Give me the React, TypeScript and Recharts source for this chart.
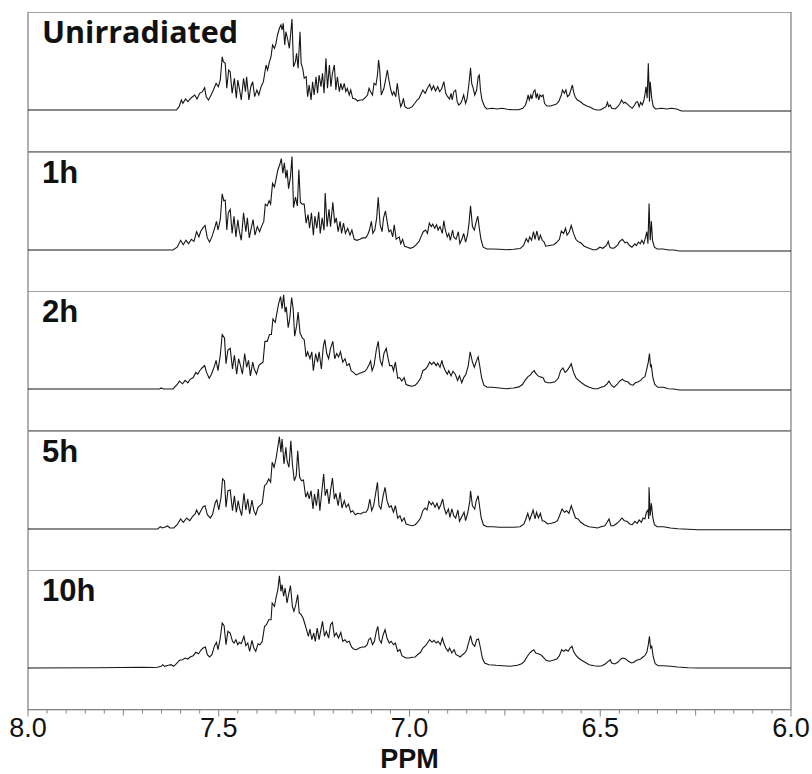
import { Label, Line, LineChart, ReferenceArea, XAxis, YAxis } from "recharts";

// ¹H NMR aromatic region, five irradiation times. Pairs are [ppm, intensity].
const unirradiated: [number, number][] = [
  [8.0, 0], [7.611, 0], [7.604, 3.3], [7.598, 10], [7.594, 6.7], [7.587, 11], [7.581, 8.3], [7.572, 12.3],
  [7.563, 15], [7.557, 11], [7.55, 16.7], [7.543, 18.3], [7.537, 22.3], [7.533, 13.3], [7.527, 10], [7.52, 15],
  [7.514, 20], [7.507, 26.7], [7.501, 23.3], [7.496, 30], [7.491, 53.3], [7.488, 48.3], [7.483, 46.7], [7.479, 21.7],
  [7.474, 40], [7.47, 38.3], [7.465, 16.7], [7.459, 31.7], [7.454, 11.7], [7.45, 30], [7.446, 21.7], [7.441, 10],
  [7.435, 31.7], [7.43, 18.3], [7.427, 33.3], [7.421, 10], [7.416, 23.3], [7.411, 28.3], [7.406, 13.3], [7.4, 20],
  [7.395, 15], [7.389, 23.3], [7.383, 28.3], [7.376, 45], [7.372, 40], [7.367, 48.3], [7.363, 53.3], [7.359, 65],
  [7.354, 61.7], [7.35, 66.7], [7.346, 75], [7.341, 81.7], [7.337, 85], [7.334, 80], [7.331, 86.7], [7.327, 65],
  [7.324, 78.3], [7.319, 70], [7.315, 61.7], [7.308, 91], [7.304, 43.3], [7.299, 48.3], [7.296, 56.7], [7.292, 41.7],
  [7.287, 78.3], [7.284, 46.7], [7.28, 41.7], [7.276, 31.7], [7.271, 33.3], [7.267, 13.3], [7.263, 25], [7.258, 10],
  [7.254, 28.3], [7.25, 15], [7.245, 33.3], [7.241, 16.7], [7.237, 35], [7.232, 23.3], [7.228, 36.7], [7.224, 16.7],
  [7.219, 51.7], [7.215, 21.7], [7.21, 45], [7.206, 23.3], [7.202, 36.7], [7.197, 45], [7.193, 20], [7.189, 33.3],
  [7.184, 18.3], [7.18, 26.7], [7.176, 20], [7.171, 26.7], [7.167, 18.3], [7.163, 21.7], [7.158, 15], [7.154, 20],
  [7.149, 11.7], [7.142, 11], [7.136, 9], [7.13, 10], [7.123, 10], [7.116, 12.3], [7.11, 15], [7.106, 21.7],
  [7.102, 18.3], [7.097, 15], [7.093, 26.7], [7.088, 25], [7.084, 35], [7.081, 50], [7.078, 40], [7.074, 15],
  [7.067, 21.7], [7.062, 31.7], [7.058, 40], [7.054, 30], [7.049, 20], [7.045, 15], [7.041, 18.3], [7.036, 13.3],
  [7.032, 26.7], [7.027, 11.7], [7.023, 3.3], [7.019, 6.7], [7.016, 11.7], [7.012, 3.3], [7.006, 1.7], [7.0, 1.7],
  [6.993, 3.3], [6.986, 6.7], [6.98, 10], [6.975, 11.7], [6.971, 15], [6.965, 20], [6.959, 16.7], [6.953, 21.7],
  [6.947, 25.7], [6.942, 20], [6.937, 24.3], [6.932, 19], [6.926, 23.3], [6.921, 18.3], [6.916, 21], [6.91, 28.3],
  [6.905, 16.7], [6.9, 13.3], [6.895, 11], [6.891, 16.7], [6.888, 10], [6.884, 18.3], [6.879, 20], [6.875, 8.3],
  [6.871, 5], [6.866, 6.7], [6.862, 10], [6.858, 15], [6.853, 6.7], [6.849, 11.7], [6.844, 26.7], [6.84, 42.3],
  [6.837, 26.7], [6.833, 21.7], [6.829, 15], [6.824, 20], [6.82, 33.3], [6.817, 35], [6.814, 20], [6.81, 10],
  [6.803, 3.3], [6.797, 1], [6.783, 1.7], [6.77, 1], [6.757, 1.7], [6.744, 0.7], [6.731, 0.3], [6.714, 0.3],
  [6.703, 1.7], [6.696, 5], [6.692, 10], [6.689, 15], [6.686, 10], [6.682, 15], [6.679, 11], [6.675, 18.3],
  [6.671, 20], [6.668, 11.7], [6.665, 16.7], [6.661, 10], [6.658, 15], [6.654, 13.3], [6.65, 15], [6.646, 6.7],
  [6.64, 4], [6.631, 4], [6.622, 5], [6.616, 5.7], [6.609, 8.3], [6.602, 15], [6.599, 20], [6.594, 16.7],
  [6.59, 20], [6.586, 13.3], [6.581, 15], [6.577, 20], [6.573, 25], [6.57, 18.3], [6.566, 13.3], [6.56, 10],
  [6.555, 9], [6.55, 7.7], [6.544, 5.7], [6.535, 4], [6.526, 2.7], [6.518, 1], [6.509, 0], [6.5, 0],
  [6.492, 1.7], [6.485, 3.3], [6.481, 7.7], [6.478, 3.3], [6.474, 5], [6.47, 1.7], [6.461, 1], [6.454, 3.3],
  [6.448, 6.7], [6.444, 10], [6.439, 6.7], [6.435, 7.7], [6.428, 5.7], [6.422, 3.3], [6.416, 1.7], [6.41, 5],
  [6.406, 7.7], [6.402, 8.3], [6.398, 3.3], [6.394, 7.7], [6.39, 5], [6.386, 9], [6.383, 15], [6.38, 23.3],
  [6.377, 11.7], [6.374, 46.7], [6.371, 8.3], [6.369, 28.3], [6.365, 11.7], [6.361, 3.3], [6.355, 1], [6.339, 1.7],
  [6.326, 1], [6.313, 1.7], [6.3, 1], [6.287, -1], [6.0, -1],
];

const oneHour: [number, number][] = [
  [8.0, 0], [7.62, 0], [7.609, 2.8], [7.6, 9.7], [7.593, 5.2], [7.586, 9.7], [7.579, 6.2], [7.572, 10.7],
  [7.565, 8.6], [7.558, 18.3], [7.552, 13.1], [7.547, 19], [7.541, 22.4], [7.536, 24.5], [7.53, 12.1], [7.524, 7.9],
  [7.518, 13.1], [7.511, 21.7], [7.506, 28.6], [7.502, 20], [7.496, 30.3], [7.491, 56.2], [7.487, 49.3], [7.483, 50],
  [7.479, 20], [7.475, 37.2], [7.47, 40.7], [7.465, 16.6], [7.46, 33.8], [7.455, 13.1], [7.45, 30.3], [7.446, 18.6],
  [7.441, 9.7], [7.435, 37.2], [7.429, 18.3], [7.425, 32.1], [7.42, 12.1], [7.415, 21.7], [7.41, 30.3], [7.405, 14.8],
  [7.399, 23.4], [7.393, 18.3], [7.388, 23.4], [7.382, 28.6], [7.378, 45.9], [7.373, 44.1], [7.368, 49.3], [7.364, 45.9],
  [7.359, 66.6], [7.354, 63.1], [7.35, 70.7], [7.345, 80.3], [7.34, 85.5], [7.336, 91.4], [7.332, 76.9], [7.328, 87.2],
  [7.324, 71.7], [7.321, 80.3], [7.317, 61.4], [7.312, 73.4], [7.308, 93.4], [7.304, 42.4], [7.299, 52.8], [7.294, 44.1],
  [7.29, 80.3], [7.286, 47.6], [7.281, 45.9], [7.276, 45.9], [7.271, 26.9], [7.266, 35.5], [7.262, 21.7], [7.257, 37.2],
  [7.252, 14.8], [7.248, 33.8], [7.243, 21.7], [7.238, 38.3], [7.234, 16.6], [7.229, 32.1], [7.224, 19.7], [7.221, 56.9],
  [7.216, 23.4], [7.211, 40.7], [7.207, 23.4], [7.201, 47.6], [7.196, 26.9], [7.192, 32.1], [7.187, 18.3], [7.182, 28.6],
  [7.178, 16.6], [7.173, 26.9], [7.168, 16.6], [7.162, 21.7], [7.156, 14.8], [7.151, 20], [7.145, 10.7], [7.138, 9.7],
  [7.13, 10.7], [7.123, 12.1], [7.115, 12.1], [7.11, 14.8], [7.105, 20], [7.1, 28.6], [7.096, 16.6], [7.091, 20],
  [7.086, 32.1], [7.082, 52.8], [7.077, 25.2], [7.072, 18.3], [7.068, 32.1], [7.063, 39], [7.058, 26.9], [7.054, 18.3],
  [7.049, 20], [7.044, 13.1], [7.04, 25.2], [7.035, 10.7], [7.027, 13.1], [7.023, 6.2], [7.018, 10.7], [7.013, 3.8],
  [7.005, 2.8], [6.998, 1.7], [6.99, 2.8], [6.983, 5.2], [6.975, 8.6], [6.97, 13.1], [6.964, 18.3], [6.958, 20],
  [6.953, 16.6], [6.948, 26.9], [6.943, 23.4], [6.939, 25.9], [6.934, 21.7], [6.929, 25.2], [6.925, 20], [6.92, 23.4],
  [6.914, 16.6], [6.91, 29.3], [6.906, 20], [6.901, 13.1], [6.897, 16.6], [6.893, 9.7], [6.887, 20], [6.884, 13.1],
  [6.878, 10.7], [6.872, 18.3], [6.868, 6.2], [6.862, 11.4], [6.858, 16.6], [6.853, 7.9], [6.848, 14.8], [6.844, 26.9],
  [6.84, 44.1], [6.835, 23.4], [6.83, 20], [6.826, 26.9], [6.821, 33.8], [6.817, 21.7], [6.813, 11.4], [6.807, 2.8],
  [6.797, 1], [6.783, 1], [6.764, 0.7], [6.745, 0.3], [6.727, 0.7], [6.71, 1.4], [6.701, 4.5], [6.694, 11.4],
  [6.689, 7.9], [6.685, 13.1], [6.68, 9.7], [6.675, 18.3], [6.671, 10.7], [6.666, 19], [6.661, 9.7], [6.657, 14.8],
  [6.652, 9.7], [6.647, 7.9], [6.643, 3.8], [6.633, 4.5], [6.622, 5.2], [6.615, 7.2], [6.607, 10.7], [6.602, 19],
  [6.596, 16.6], [6.591, 21.7], [6.587, 14.8], [6.581, 18.3], [6.576, 24.5], [6.57, 16.6], [6.564, 10.7], [6.559, 8.6],
  [6.551, 7.2], [6.542, 3.8], [6.531, 2.1], [6.519, 0.3], [6.51, 0.3], [6.501, 2.8], [6.493, 1.7], [6.484, 4.5],
  [6.479, 8.6], [6.475, 2.8], [6.47, 1.7], [6.463, 2.1], [6.454, 5.2], [6.449, 8.6], [6.442, 10.7], [6.435, 7.2],
  [6.43, 7.9], [6.423, 4.5], [6.417, 2.8], [6.409, 6.2], [6.405, 4.5], [6.4, 7.9], [6.395, 6.2], [6.391, 9.7],
  [6.386, 6.2], [6.381, 13.1], [6.378, 18.3], [6.375, 6.2], [6.372, 46.6], [6.369, 9.7], [6.366, 28.6], [6.363, 9.7],
  [6.358, 2.8], [6.351, 1], [6.335, 1], [6.321, 0], [6.307, 0], [6.293, -1], [6.0, -1],
];

const twoHours: [number, number][] = [
  [8.0, 0], [7.655, 0], [7.651, 1], [7.645, 0], [7.62, 0], [7.609, 4.5], [7.603, 7.9], [7.595, 5.2],
  [7.588, 8.6], [7.581, 6.2], [7.575, 9.7], [7.567, 11.4], [7.56, 16.6], [7.555, 14.8], [7.55, 18.3], [7.544, 21],
  [7.537, 23.4], [7.532, 16.6], [7.525, 10.7], [7.519, 14.8], [7.511, 23.4], [7.507, 28.6], [7.502, 18.3], [7.496, 33.8],
  [7.491, 54.5], [7.485, 51], [7.481, 25.2], [7.476, 39], [7.47, 40.7], [7.464, 20], [7.459, 33.8], [7.453, 14.8],
  [7.448, 30.3], [7.443, 23.4], [7.438, 14.8], [7.432, 35.5], [7.427, 21.7], [7.422, 28.6], [7.417, 13.1], [7.411, 26.9],
  [7.407, 20], [7.401, 14.8], [7.395, 23.4], [7.39, 25.2], [7.384, 26.9], [7.379, 47.6], [7.373, 47.6], [7.367, 54.5],
  [7.362, 54.5], [7.358, 70], [7.352, 66.6], [7.348, 75.2], [7.343, 85.5], [7.338, 92.4], [7.334, 80.3], [7.33, 94.1],
  [7.326, 76.9], [7.323, 82.1], [7.318, 61.4], [7.314, 70], [7.309, 91.4], [7.305, 80.3], [7.301, 52.8], [7.296, 63.1],
  [7.292, 76.9], [7.287, 56.2], [7.281, 51], [7.276, 49.3], [7.271, 32.1], [7.267, 37.2], [7.261, 30.3], [7.256, 37.2],
  [7.252, 18.3], [7.246, 35.5], [7.241, 26.9], [7.237, 37.2], [7.231, 20], [7.226, 42.4], [7.222, 49.3], [7.217, 35.5],
  [7.212, 30.3], [7.207, 40.7], [7.201, 47.6], [7.196, 30.3], [7.191, 35.5], [7.186, 32.1], [7.181, 37.2], [7.175, 26.9],
  [7.169, 30.3], [7.164, 23.4], [7.158, 25.2], [7.153, 18.3], [7.147, 16.6], [7.14, 14.1], [7.132, 15.5], [7.125, 16.6],
  [7.117, 17.6], [7.112, 20], [7.107, 23.4], [7.102, 27.9], [7.098, 18.3], [7.093, 23.4], [7.087, 39], [7.082, 47.6],
  [7.077, 28.6], [7.072, 23.4], [7.067, 35.5], [7.061, 40.7], [7.056, 30.3], [7.052, 23.4], [7.046, 23.4], [7.042, 18.3],
  [7.037, 26.9], [7.031, 10.7], [7.026, 11.4], [7.02, 7.9], [7.014, 11.4], [7.009, 4.5], [7.001, 3.4], [6.993, 2.8],
  [6.985, 3.8], [6.979, 6.2], [6.971, 10.7], [6.965, 18.3], [6.958, 20], [6.953, 22.4], [6.947, 26.9], [6.942, 24.5],
  [6.936, 26.9], [6.93, 23.4], [6.926, 25.9], [6.92, 21.7], [6.915, 28.6], [6.912, 23.4], [6.906, 18.3], [6.901, 14.8],
  [6.897, 18.3], [6.891, 13.1], [6.886, 17.6], [6.88, 14.8], [6.874, 8.6], [6.869, 13.1], [6.863, 6.2], [6.858, 11.4],
  [6.852, 14.8], [6.846, 23.4], [6.841, 37.2], [6.835, 26.9], [6.83, 21.7], [6.824, 28.6], [6.82, 32.1], [6.816, 23.4],
  [6.811, 11.4], [6.805, 3.8], [6.797, 1.7], [6.783, 1.7], [6.764, 1], [6.746, 0.3], [6.727, 1], [6.713, 2.1],
  [6.704, 4.5], [6.697, 8.6], [6.69, 12.1], [6.683, 14.1], [6.678, 16.6], [6.673, 18.3], [6.669, 15.5], [6.663, 13.1],
  [6.657, 12.1], [6.65, 11.4], [6.645, 7.2], [6.638, 6.2], [6.629, 6.2], [6.619, 7.2], [6.61, 10.7], [6.604, 18.3],
  [6.598, 21], [6.592, 16.6], [6.587, 18.3], [6.58, 22.4], [6.576, 25.2], [6.57, 16.6], [6.564, 11.4], [6.557, 8.6],
  [6.549, 6.2], [6.54, 3.8], [6.529, 1.7], [6.517, 0.3], [6.507, 0.3], [6.498, 1.7], [6.489, 2.8], [6.482, 5.2],
  [6.477, 7.9], [6.471, 3.8], [6.464, 1.7], [6.456, 4.5], [6.449, 7.9], [6.442, 9.7], [6.436, 7.9], [6.428, 7.2],
  [6.421, 4.5], [6.414, 3.8], [6.408, 6.2], [6.4, 7.2], [6.394, 8.6], [6.388, 11.4], [6.383, 12.1], [6.379, 18.3],
  [6.374, 26.9], [6.371, 35.5], [6.368, 21.7], [6.366, 23.4], [6.362, 11.4], [6.357, 4.5], [6.349, 1.7], [6.335, 1.7],
  [6.321, 0.3], [6.307, 0], [6.293, -1], [6.0, -1],
];

const fiveHours: [number, number][] = [
  [8.0, 0], [7.66, 0], [7.653, 2.3], [7.648, 1], [7.642, 1.7], [7.634, 3], [7.628, 1], [7.618, 1],
  [7.609, 4.3], [7.6, 10], [7.593, 6.7], [7.584, 11], [7.576, 8.3], [7.569, 12.3], [7.562, 15], [7.558, 19],
  [7.552, 14.3], [7.547, 18.3], [7.541, 22.3], [7.536, 23.3], [7.53, 14.3], [7.522, 11], [7.516, 15], [7.509, 26.7],
  [7.505, 29], [7.5, 19], [7.494, 31.7], [7.49, 50], [7.485, 48.3], [7.481, 21.7], [7.476, 38.3], [7.47, 39],
  [7.464, 18.3], [7.459, 33.3], [7.454, 16.7], [7.449, 28.3], [7.445, 20], [7.44, 13.3], [7.434, 35.7], [7.429, 19],
  [7.424, 30], [7.419, 15], [7.413, 29], [7.408, 18.3], [7.403, 14.3], [7.397, 21.7], [7.392, 23.3], [7.386, 25.7],
  [7.38, 43.3], [7.375, 45], [7.369, 50], [7.364, 46.7], [7.36, 66.7], [7.355, 61.7], [7.35, 70], [7.346, 80],
  [7.341, 92.3], [7.337, 76.7], [7.334, 90], [7.329, 65], [7.324, 81.7], [7.321, 68.3], [7.316, 61.7], [7.311, 88.3],
  [7.307, 65], [7.302, 48.3], [7.297, 53.3], [7.293, 78.3], [7.288, 51.7], [7.283, 48.3], [7.278, 49], [7.272, 31.7],
  [7.267, 36.7], [7.263, 30], [7.258, 38.3], [7.253, 20], [7.249, 35], [7.244, 23.3], [7.239, 40], [7.235, 18.3],
  [7.23, 36.7], [7.225, 55], [7.221, 33.3], [7.216, 40], [7.211, 25], [7.207, 38.3], [7.202, 51], [7.197, 30],
  [7.193, 35.7], [7.187, 23.3], [7.182, 36.7], [7.177, 21], [7.171, 28.3], [7.166, 21.7], [7.16, 25], [7.154, 16.7],
  [7.149, 18.3], [7.142, 14.3], [7.136, 15.7], [7.128, 15], [7.121, 16.7], [7.114, 16.7], [7.109, 20], [7.104, 30],
  [7.099, 18.3], [7.094, 23.3], [7.089, 35], [7.084, 46.7], [7.08, 23.3], [7.075, 20], [7.069, 33.3], [7.064, 41.7],
  [7.059, 28.3], [7.053, 21.7], [7.048, 23.3], [7.042, 16.7], [7.037, 23.3], [7.031, 11], [7.025, 13.3], [7.02, 7.7],
  [7.014, 11], [7.009, 5], [7.001, 4], [6.993, 3.3], [6.985, 4.3], [6.979, 6.7], [6.971, 11], [6.965, 18.3],
  [6.959, 21], [6.954, 19], [6.949, 27.7], [6.943, 24.3], [6.939, 26.7], [6.933, 21.7], [6.928, 25.7], [6.923, 20],
  [6.918, 24.3], [6.913, 30], [6.909, 21], [6.904, 15], [6.898, 20], [6.894, 11.7], [6.889, 20], [6.884, 13.3],
  [6.879, 11], [6.873, 19], [6.869, 7.7], [6.863, 12.3], [6.857, 16.7], [6.853, 8.3], [6.847, 16.7], [6.842, 27.7],
  [6.84, 38.3], [6.835, 23.3], [6.829, 20], [6.825, 28.3], [6.82, 33.3], [6.816, 21.7], [6.812, 11], [6.806, 4],
  [6.797, 2.3], [6.782, 2.3], [6.764, 1.7], [6.745, 1.7], [6.727, 1.7], [6.71, 2.3], [6.7, 5], [6.695, 10],
  [6.69, 15.7], [6.685, 9], [6.681, 13.3], [6.676, 19], [6.671, 10], [6.667, 16.7], [6.662, 11], [6.657, 15.7],
  [6.652, 8.3], [6.646, 7.7], [6.638, 5], [6.628, 5.7], [6.619, 6.7], [6.612, 8.3], [6.605, 15], [6.6, 20],
  [6.594, 16.7], [6.588, 18.3], [6.582, 15.7], [6.576, 23.3], [6.571, 17.7], [6.565, 11], [6.558, 10], [6.551, 6.7],
  [6.542, 4.3], [6.53, 2.3], [6.519, 1.7], [6.507, 1], [6.498, 2.3], [6.488, 3.3], [6.482, 6.7], [6.477, 10],
  [6.472, 3.3], [6.465, 3.3], [6.456, 5.7], [6.449, 8.3], [6.443, 11], [6.437, 8.3], [6.43, 7.7], [6.423, 5],
  [6.416, 4.3], [6.409, 7.7], [6.403, 5.7], [6.398, 9], [6.392, 6.7], [6.388, 11], [6.383, 10], [6.379, 16.7],
  [6.375, 19], [6.373, 10], [6.372, 41.7], [6.369, 13.3], [6.366, 25.7], [6.362, 11], [6.358, 4.3], [6.351, 2.3],
  [6.334, 2.3], [6.316, 1], [6.297, 0.3], [6.269, -0.3], [6.243, -0.7], [6.0, -0.7],
];

const tenHours: [number, number][] = [
  [8.0, 0], [7.82, 0.3], [7.7, 0.7], [7.67, 0.5], [7.661, 0.7], [7.651, 1.7], [7.647, 3.3], [7.642, 1.7],
  [7.632, 2.7], [7.625, 3.3], [7.618, 1.7], [7.609, 5], [7.603, 7.7], [7.595, 8.3], [7.588, 10], [7.581, 9],
  [7.575, 11], [7.567, 12.3], [7.56, 15.7], [7.553, 14.3], [7.547, 17.7], [7.541, 20], [7.535, 21], [7.53, 13.3],
  [7.524, 11], [7.518, 13.3], [7.511, 22.3], [7.506, 25.7], [7.502, 18.3], [7.496, 30], [7.491, 45], [7.486, 42.3],
  [7.481, 23.3], [7.476, 36.7], [7.47, 35], [7.464, 26.7], [7.46, 25], [7.455, 28.3], [7.45, 23.3], [7.446, 25.7],
  [7.441, 24.3], [7.434, 31.7], [7.429, 22.3], [7.424, 25], [7.419, 16.7], [7.413, 27.7], [7.408, 20], [7.403, 16.7],
  [7.397, 24.3], [7.392, 23.3], [7.386, 26.7], [7.38, 41.7], [7.375, 43.3], [7.369, 48.3], [7.363, 48.3], [7.36, 65],
  [7.354, 61.7], [7.35, 70], [7.345, 78.3], [7.341, 92.3], [7.337, 76.7], [7.334, 83.3], [7.33, 71.7], [7.326, 80],
  [7.321, 65], [7.317, 73.3], [7.312, 82.3], [7.307, 61.7], [7.303, 56.7], [7.298, 63.3], [7.293, 73.3], [7.289, 55],
  [7.284, 53.3], [7.279, 50], [7.275, 45], [7.27, 38.3], [7.265, 31.7], [7.261, 39], [7.256, 28.3], [7.251, 35],
  [7.247, 26.7], [7.242, 40], [7.237, 28.3], [7.233, 36.7], [7.228, 46.7], [7.223, 31.7], [7.218, 36.7], [7.212, 30],
  [7.207, 43.3], [7.202, 45.7], [7.197, 31.7], [7.192, 35], [7.186, 30], [7.18, 35.7], [7.175, 26.7], [7.169, 28.3],
  [7.164, 25.7], [7.158, 26.7], [7.152, 21], [7.147, 19], [7.139, 18.3], [7.132, 20], [7.124, 21], [7.117, 21],
  [7.111, 23.3], [7.107, 28.3], [7.102, 30], [7.097, 23.3], [7.092, 26.7], [7.087, 36.7], [7.083, 41.7], [7.079, 28.3],
  [7.074, 25], [7.069, 33.3], [7.064, 38.3], [7.059, 30], [7.053, 25], [7.048, 26.7], [7.042, 23.3], [7.037, 25],
  [7.031, 16.7], [7.025, 18.3], [7.02, 12.3], [7.014, 11], [7.009, 10], [7.001, 10], [6.993, 10.7], [6.985, 11],
  [6.979, 13.3], [6.971, 15.7], [6.965, 20], [6.958, 22.3], [6.953, 25], [6.947, 28.3], [6.941, 25.7], [6.936, 27.7],
  [6.93, 25], [6.925, 26.7], [6.919, 23.3], [6.914, 30], [6.91, 25], [6.905, 20], [6.899, 16.7], [6.895, 20],
  [6.889, 15], [6.883, 18.3], [6.878, 13.3], [6.872, 12.3], [6.867, 11], [6.861, 13.3], [6.855, 15], [6.85, 18.3],
  [6.844, 26.7], [6.84, 32.3], [6.835, 24.3], [6.829, 21.7], [6.824, 28.3], [6.819, 29], [6.814, 20], [6.809, 10],
  [6.803, 5], [6.792, 3.3], [6.773, 2.7], [6.755, 2.3], [6.736, 1.7], [6.717, 2.7], [6.706, 4.3], [6.699, 6.7],
  [6.691, 11.7], [6.685, 15], [6.68, 16.7], [6.674, 18.3], [6.669, 15], [6.663, 14.3], [6.656, 13.3], [6.65, 11],
  [6.642, 7.7], [6.633, 6.7], [6.624, 7.7], [6.614, 9], [6.607, 12.3], [6.601, 18.3], [6.596, 16.7], [6.59, 18.3],
  [6.584, 16.7], [6.579, 20], [6.574, 21.7], [6.57, 16.7], [6.563, 12.3], [6.557, 10], [6.549, 7.7], [6.54, 5.7],
  [6.529, 3.3], [6.516, 2.3], [6.504, 1.7], [6.495, 2.3], [6.486, 4.3], [6.479, 6.7], [6.474, 8.3], [6.47, 5],
  [6.462, 4], [6.454, 5.7], [6.446, 9], [6.44, 10], [6.433, 9], [6.426, 6.7], [6.418, 5], [6.412, 5.7],
  [6.405, 7.7], [6.4, 8.3], [6.394, 9], [6.388, 11], [6.383, 12.3], [6.378, 15.7], [6.374, 23.3], [6.371, 31.7],
  [6.368, 20], [6.365, 21.7], [6.361, 11], [6.356, 4.3], [6.348, 2.3], [6.334, 2.3], [6.316, 1.7], [6.297, 1],
  [6.269, 0.3], [6.243, 0], [6.0, 0],
];

const panelLabels = ["Unirradiated", "1h", "2h", "5h", "10h"];
const spectra = [unirradiated, oneHour, twoHours, fiveHours, tenHours];

const ppmTicks = [
  8.0, 7.95, 7.9, 7.85, 7.8, 7.75, 7.7, 7.65, 7.6, 7.55, 7.5, 7.45, 7.4, 7.35, 7.3, 7.25, 7.2, 7.15, 7.1, 7.05, 7.0,
  6.95, 6.9, 6.85, 6.8, 6.75, 6.7, 6.65, 6.6, 6.55, 6.5, 6.45, 6.4, 6.35, 6.3, 6.25, 6.2, 6.15, 6.1, 6.05, 6.0,
];
const labelledTicks = [8.0, 7.5, 7.0, 6.5, 6.0];

const PANEL_TOP = 12;
const PANEL_H = 139.6;
const Y_DOMAIN: [number, number] = [-41.6, 98];
const FRAME = "#858585";
const MARGIN = { top: 0, right: 21, bottom: 0, left: 28 };
const SANS = "'Liberation Sans', Arial, sans-serif";

function PpmTick({ x, y, payload }: { x?: number; y?: number; payload?: { value: number } }) {
  const v = payload?.value ?? 0;
  const isLabelled = labelledTicks.some((t) => Math.abs(t - v) < 1e-6);
  const isQuarter = Math.abs(v * 4 - Math.round(v * 4)) < 1e-6;
  const len = isLabelled ? 7 : isQuarter ? 6 : 4;
  return (
    <g>
      <line x1={x} x2={x} y1={y} y2={(y ?? 0) + len} stroke={FRAME} strokeWidth={1} />
      {isLabelled && (
        <text x={x} y={(y ?? 0) + 27.5} textAnchor="middle" fontSize={27} fontFamily={SANS} fill="#111">
          {v.toFixed(1)}
        </text>
      )}
    </g>
  );
}

function Panel({ index }: { index: number }) {
  const isLast = index === spectra.length - 1;
  const rows = spectra[index].map(([ppm, v]) => ({ ppm, v }));
  const axisH = 64;
  const first = index === 0;

  return (
    <div style={{ position: "absolute", left: 0, top: PANEL_TOP + index * PANEL_H }}>
      <LineChart
        width={812}
        height={isLast ? PANEL_H + axisH : PANEL_H}
        data={rows}
        margin={MARGIN}
        style={{ overflow: "visible" }}
      >
        <XAxis
          dataKey="ppm"
          type="number"
          domain={[6, 8]}
          reversed
          hide={!isLast}
          ticks={ppmTicks}
          interval={0}
          tick={<PpmTick />}
          tickLine={false}
          tickSize={0}
          tickMargin={0}
          axisLine={{ stroke: FRAME }}
          height={axisH}
        >
          {isLast && (
            <Label
              value="PPM"
              position="insideBottom"
              offset={5.5}
              style={{ fontSize: 27, fontWeight: 700, fill: "#111", fontFamily: SANS }}
            />
          )}
        </XAxis>
        <YAxis hide domain={Y_DOMAIN} allowDataOverflow />
        <ReferenceArea x1={8} x2={6} y1={Y_DOMAIN[0]} y2={Y_DOMAIN[1]} fill="none" stroke={FRAME} strokeWidth={1.3} />
        <Line
          dataKey="v"
          type="linear"
          stroke="#161616"
          strokeWidth={1.1}
          dot={false}
          activeDot={false}
          isAnimationActive={false}
        />
      </LineChart>
      <div
        style={{
          position: "absolute",
          left: 42,
          top: first ? 4 : 5,
          fontFamily: first ? "'Open Sans', sans-serif" : SANS,
          fontWeight: 700,
          fontSize: first ? 30.5 : 31,
          lineHeight: first ? "30px" : "31px",
          color: "#111",
          whiteSpace: "nowrap",
        }}
      >
        {panelLabels[index]}
      </div>
    </div>
  );
}

export default function App() {
  return (
    <div style={{ position: "absolute", left: 0, top: 0, width: 812, height: 774, background: "#fff", overflow: "hidden" }}>
      {spectra.map((_, i) => (
        <Panel key={panelLabels[i]} index={i} />
      ))}
    </div>
  );
}
